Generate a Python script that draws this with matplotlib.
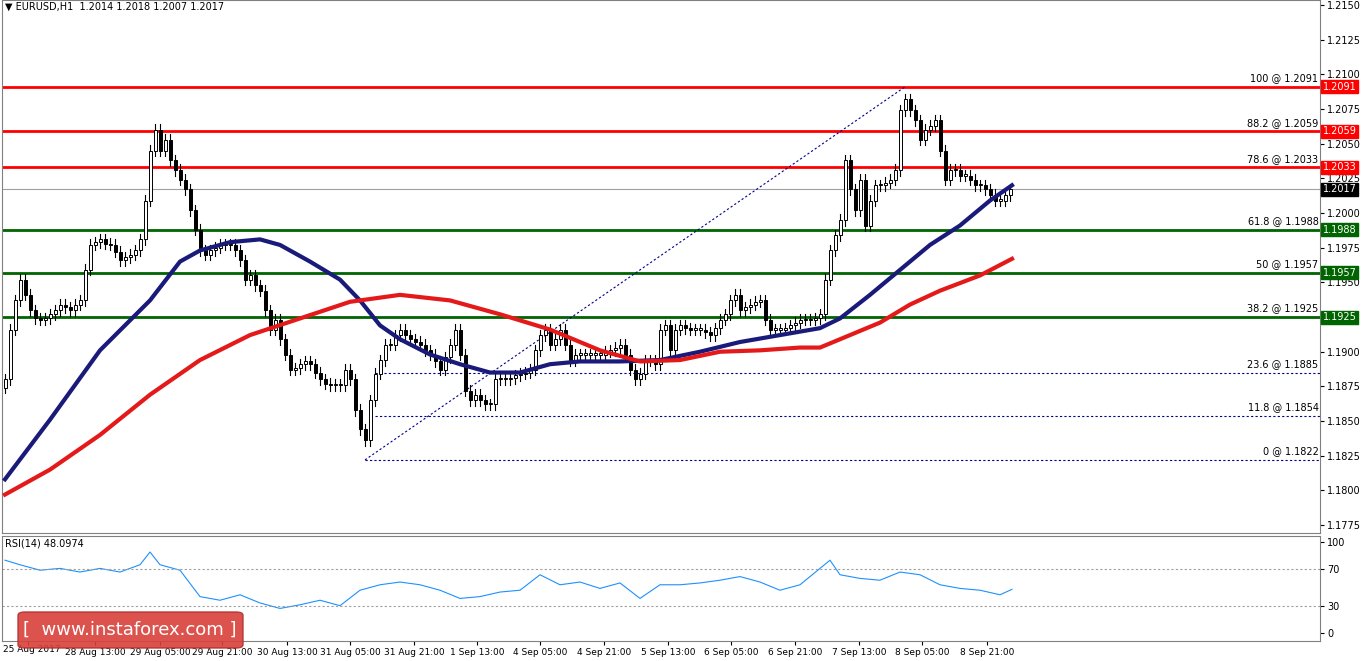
import matplotlib
matplotlib.use("Agg")
import matplotlib.pyplot as plt
from matplotlib.patches import FancyBboxPatch, Rectangle
import numpy as np

closes = [1.1880,1.1916,1.1937,1.1952,1.1941,1.1930,1.1924,1.1923,1.1924,1.1927,1.1930,1.1934,1.1932,1.1930,1.1934,1.1937,
1.1959,1.1977,1.1979,1.1981,1.1978,1.1977,1.1972,1.1966,1.1968,1.1970,1.1973,1.1981,1.2009,1.2045,1.2060,1.2045,1.2053,
1.2038,1.2031,1.2024,1.2017,1.2002,1.1988,1.1973,1.1970,1.1973,1.1975,1.1977,1.1977,1.1977,1.1973,1.1966,1.1952,1.1955,
1.1948,1.1944,1.1930,1.1916,1.1923,1.1909,1.1898,1.1887,1.1888,1.1891,1.1893,1.1891,1.1885,1.1880,1.1877,1.1876,1.1876,
1.1876,1.1887,1.1880,1.1858,1.1844,1.1836,1.1865,1.1884,1.1894,1.1905,1.1905,1.1912,1.1916,1.1912,1.1909,1.1907,1.1905,
1.1901,1.1898,1.1893,1.1887,1.1896,1.1905,1.1916,1.1898,1.1872,1.1865,1.1869,1.1865,1.1862,1.1862,1.1880,1.1880,1.1880,
1.1881,1.1883,1.1884,1.1885,1.1887,1.1901,1.1912,1.1916,1.1905,1.1909,1.1916,1.1905,1.1894,1.1898,1.1898,1.1898,1.1898,
1.1898,1.1898,1.1900,1.1901,1.1903,1.1905,1.1898,1.1887,1.1880,1.1884,1.1894,1.1894,1.1891,1.1916,1.1919,1.1901,1.1916,
1.1919,1.1917,1.1916,1.1916,1.1916,1.1914,1.1912,1.1917,1.1923,1.1927,1.1937,1.1941,1.1930,1.1932,1.1934,1.1936,1.1937,
1.1923,1.1916,1.1916,1.1916,1.1917,1.1919,1.1921,1.1923,1.1923,1.1923,1.1924,1.1927,1.1952,1.1973,1.1984,1.1995,1.2038,
1.2017,1.2002,1.2024,1.1991,1.2009,1.2020,1.2020,1.2022,1.2024,1.2031,1.2074,1.2082,1.2074,1.2067,1.2053,1.2060,1.2063,
1.2067,1.2045,1.2024,1.2031,1.2031,1.2027,1.2027,1.2024,1.2020,1.2020,1.2017,1.2013,1.2009,1.2009,1.2013,1.2017]

ma_x_px = [5,50,100,150,180,200,230,260,280,310,340,360,380,400,430,460,490,520,550,580,620,660,700,740,780,820,840,870,900,930,960,990,1012]
ma_blue = [1.1808,1.1851,1.1901,1.1937,1.1965,1.1973,1.1979,1.1981,1.1977,1.1965,1.1952,1.1937,1.1919,1.1909,1.1898,1.1891,
1.1885,1.1885,1.1891,1.1893,1.1893,1.1894,1.1900,1.1907,1.1912,1.1917,1.1924,1.1941,1.1959,1.1977,1.1991,1.2009,1.2020]
ma_red_px = [5,50,100,150,200,250,300,350,400,450,500,550,600,640,680,720,760,800,820,850,880,910,940,980,1012]
ma_red = [1.1797,1.1815,1.1840,1.1869,1.1894,1.1912,1.1924,1.1936,1.1941,1.1937,1.1927,1.1916,1.1901,1.1893,1.1894,1.1900,
1.1901,1.1903,1.1903,1.1912,1.1921,1.1934,1.1944,1.1955,1.1967]

rsi_px = [5,20,40,60,80,100,120,140,150,160,180,200,220,240,260,280,300,320,340,360,380,400,420,440,460,480,500,520,540,560,
580,600,620,640,660,680,700,720,740,760,780,800,820,830,840,860,880,900,920,940,960,980,1000,1012]
rsi = [80,75,69,71,67,71,67,75,89,75,69,40,36,42,33,27,31,36,30,47,53,56,53,47,38,40,45,47,64,53,56,49,55,38,53,53,55,58,62,
56,47,53,71,80,64,60,58,67,64,53,49,47,42,48]

red_levels = [1.2091, 1.2059, 1.2033]
green_levels = [1.1988, 1.1957, 1.1925]
blue_levels = [1.1885, 1.1854, 1.1822]
fib_labels = {1.2091: "100 @ 1.2091", 1.2059: "88.2 @ 1.2059", 1.2033: "78.6 @ 1.2033", 1.1988: "61.8 @ 1.1988",
              1.1957: "50 @ 1.1957", 1.1925: "38.2 @ 1.1925", 1.1885: "23.6 @ 1.1885", 1.1854: "11.8 @ 1.1854",
              1.1822: "0 @ 1.1822"}
xlabels = ["25 Aug 2017","28 Aug 13:00","29 Aug 05:00","29 Aug 21:00","30 Aug 13:00","31 Aug 05:00","31 Aug 21:00",
           "1 Sep 13:00","4 Sep 05:00","4 Sep 21:00","5 Sep 13:00","6 Sep 05:00","6 Sep 21:00","7 Sep 13:00",
           "8 Sep 05:00","8 Sep 21:00"]
xlabel_px = [28,95,160,222,287,350,414,477,540,604,668,731,795,859,922,987]
last_price = 1.2017

W, H = 1362, 661
fig = plt.figure(figsize=(W/100, H/100), dpi=100)
L, R = 2, 1320
ax = fig.add_axes([L/W, 1-533/H, (R-L)/W, 533/H])
ar = fig.add_axes([L/W, 1-641/H, (R-L)/W, 105/H])

def px2i(p):
    return (np.asarray(p, float) - 5) / 5.0

ylo, yhi = 1.17693, 1.21536
xlo, xhi = px2i(L), px2i(R)
ax.set_xlim(xlo, xhi); ax.set_ylim(ylo, yhi)
ar.set_xlim(xlo, xhi); ar.set_ylim((633-641)/0.91, (633-536)/0.91)

prev = closes[0] - 0.0006
for i, c in enumerate(closes):
    o = prev
    hi, lo = max(o, c) + 0.0004, min(o, c) - 0.0004
    ax.plot([i, i], [lo, hi], color='black', lw=0.8, zorder=3)
    up = c >= o
    h = max(abs(c - o), 0.00008)
    ax.add_patch(Rectangle((i - 0.3, min(o, c)), 0.6, h, facecolor='white' if up else 'black',
                           edgecolor='black', lw=0.7, zorder=4))
    prev = c

ax.plot(px2i(ma_x_px), ma_blue, color='#1a1a7a', lw=3, zorder=5, solid_joinstyle='round')
ax.plot(px2i(ma_red_px), ma_red, color='#e41a1a', lw=3, zorder=5, solid_joinstyle='round')

for lv in red_levels:
    ax.axhline(lv, color='#ff0000', lw=2, zorder=2)
for lv in green_levels:
    ax.axhline(lv, color='#006400', lw=2, zorder=2)
starts = [375, 375, 365]
for lv, s in zip(blue_levels, starts):
    ax.plot([px2i(s), xhi], [lv, lv], color='#00008b', lw=0.8, ls=(0, (2, 2)), zorder=2)
ax.plot([px2i(365), px2i(905)], [1.1822, 1.2091], color='#00008b', lw=0.8, ls=(0, (2, 2)), zorder=2)
ax.axhline(last_price, color='#a0a0a0', lw=0.8, zorder=1)
for lv, t in fib_labels.items():
    ax.text(xhi - 0.3, lv + 0.00025, t, fontsize=7, ha='right', va='bottom', color='black')

ax.text(px2i(5), 1.21536 - 0.00052, "\u25bc EURUSD,H1  1.2014 1.2018 1.2007 1.2017", fontsize=7, va='center')

ax.yaxis.tick_right()
ticks = np.round(np.arange(1.1775, 1.21501, 0.0025), 4)
boxes = red_levels + green_levels + [last_price]
ax.set_yticks(ticks)
ax.set_yticklabels(["" if any(abs(t - b) < 0.0003 for b in boxes) else "%.4f" % t for t in ticks], fontsize=7)
ax.tick_params(axis='y', length=3, pad=2)
ax.set_xticks([])
for lv in boxes:
    col = '#ff0000' if lv in red_levels else ('#006400' if lv in green_levels else 'black')
    ax.text(1.002, (lv - ylo)/(yhi - ylo), "%.4f" % lv, transform=ax.transAxes, fontsize=7, color='white',
            va='center', ha='left', bbox=dict(boxstyle='square,pad=0.15', fc=col, ec=col), zorder=10, clip_on=False)

ar.plot(px2i(rsi_px), rsi, color='#1e90ff', lw=0.8)
for lv in (70, 30):
    ar.axhline(lv, color='#a0a0a0', lw=0.8, ls=(0, (2, 2)))
ar.yaxis.tick_right()
ar.set_yticks([100, 70, 30, 0])
ar.set_yticklabels(["100", "70", "30", "0"], fontsize=7)
ar.tick_params(axis='y', length=3, pad=2)
ar.text(px2i(5), 98, "RSI(14) 48.0974", fontsize=7, va='center')
ar.set_xticks(px2i(xlabel_px))
ar.set_xticklabels([""] + xlabels[1:], fontsize=6.5)
fig.text(3/W, 1-650/H, xlabels[0], fontsize=6.5, ha='left', va='center')
ar.tick_params(axis='x', length=3, pad=2)
for a in (ax, ar):
    for s in a.spines.values():
        s.set_color('#808080'); s.set_linewidth(0.8)

fig.patches.append(FancyBboxPatch((18/W, 1-648/H), 225/W, 36/H, boxstyle='round,pad=0,rounding_size=0.005',
                                  transform=fig.transFigure, fc='#d9403a', ec='#b03030', alpha=0.9, zorder=20))
fig.text(130/W, 1-630/H, "[  www.instaforex.com ]", color='white', fontsize=13, ha='center', va='center', zorder=21)

fig.savefig("out.png", dpi=100, facecolor='white')
